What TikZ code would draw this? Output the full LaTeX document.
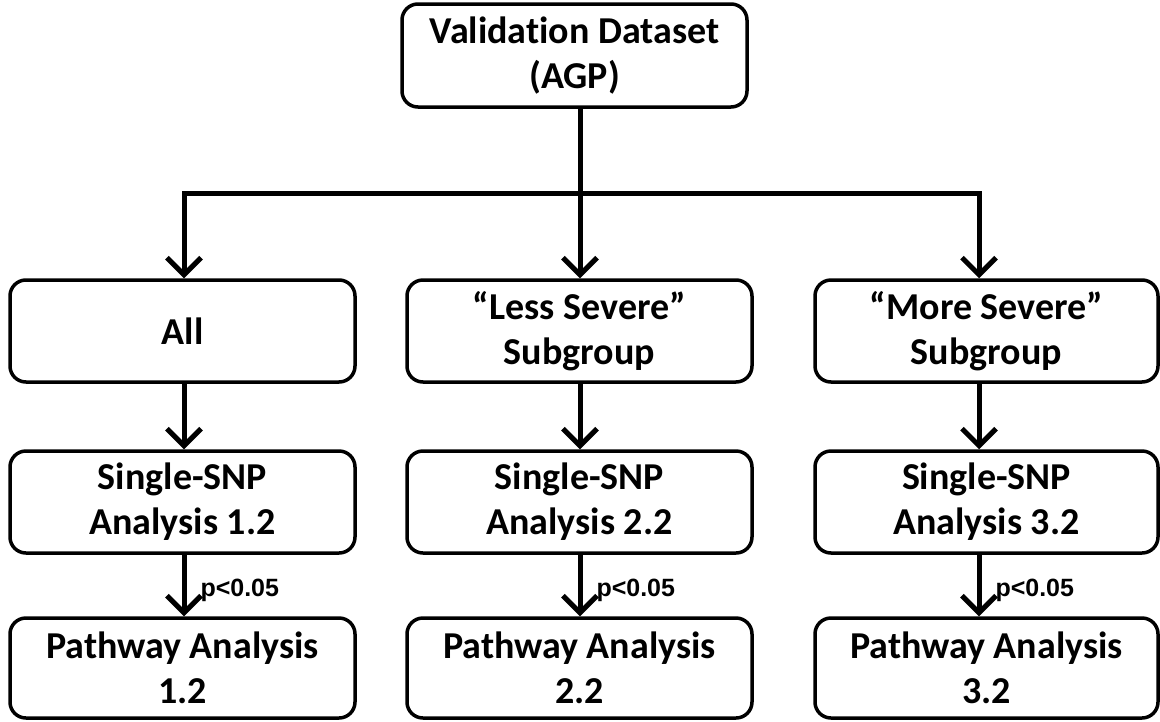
\documentclass[tikz,border=0pt]{standalone}
\usepackage{fontspec}
\setmainfont[Ligatures={TeX,NoCommon}]{Carlito}
\newfontfamily\arialf{Liberation Sans}
\usetikzlibrary{arrows.meta}
\begin{document}
\begin{tikzpicture}[x=1pt,y=-1pt,
  box/.style={draw=black,line width=3.5pt,rounded corners=16pt,fill=white,
    minimum width=#1,align=center,inner sep=0pt,
    font=\fontsize{38}{45}\selectfont\bfseries},
  box/.default=345pt,
  arr/.style={line width=5pt,-{Straight Barb[length=17pt,width=34pt,line width=5pt]}},
  plain/.style={line width=5pt},
  plab/.style={font=\arialf\fontsize{25}{27}\selectfont\bfseries,anchor=west,inner sep=0pt}]
\useasboundingbox[fill=white] (0,0) rectangle (1160,721);
% top
\node[box, minimum height=103pt] (top) at (574.5,55.5) {Validation Dataset\\(AGP)};
% row 1
\node[box, minimum height=102pt] (l1) at (182.5,331) {All};
\node[box, minimum height=102pt] (m1) at (579.5,331) {“Less Severe”\\Subgroup};
\node[box, minimum height=102pt, minimum width=343pt] (r1) at (986.5,331) {“More Severe”\\Subgroup};
% row 2
\node[box, minimum height=102pt] (l2) at (182.5,502) {Single-SNP\\Analysis 1.2};
\node[box, minimum height=102pt] (m2) at (579.5,502) {Single-SNP\\Analysis 2.2};
\node[box, minimum height=102pt, minimum width=343pt] (r2) at (986.5,502) {Single-SNP\\Analysis 3.2};
% row 3
\node[box, minimum height=100pt] (l3) at (182.5,668) {Pathway Analysis\\1.2};
\node[box, minimum height=100pt] (m3) at (579.5,668) {Pathway Analysis\\2.2};
\node[box, minimum height=100pt, minimum width=343pt] (r3) at (986.5,668) {Pathway Analysis\\3.2};
% column x coordinates for connectors
\coordinate (ax1) at (184,0);
\coordinate (ax2) at (580,0);
\coordinate (ax3) at (979,0);
\coordinate (bus) at (580,193);
\coordinate (busL) at (184,193);
\coordinate (busR) at (979,193);
% top fan-out
\draw[plain] (top.south -| ax2) -- (bus);
\draw[plain,line cap=rect] (busL) -- (busR);
\draw[arr] (busL) -- (l1.north -| ax1);
\draw[arr] (bus) -- (m1.north -| ax2);
\draw[arr] (busR) -- (r1.north -| ax3);
% row1 -> row2
\draw[arr] (l1.south -| ax1) -- (l2.north -| ax1);
\draw[arr] (m1.south -| ax2) -- (m2.north -| ax2);
\draw[arr] (r1.south -| ax3) -- (r2.north -| ax3);
% row2 -> row3
\draw[arr] (l2.south -| ax1) -- node[plab, pos=0.5, xshift=14pt, yshift=-5pt] (p1) {p<0.05} (l3.north -| ax1);
\draw[arr] (m2.south -| ax2) -- node[plab, pos=0.5, xshift=14pt, yshift=-5pt] (p2) {p<0.05} (m3.north -| ax2);
\draw[arr] (r2.south -| ax3) -- node[plab, pos=0.5, xshift=14pt, yshift=-5pt] (p3) {p<0.05} (r3.north -| ax3);
\end{tikzpicture}
\end{document}
